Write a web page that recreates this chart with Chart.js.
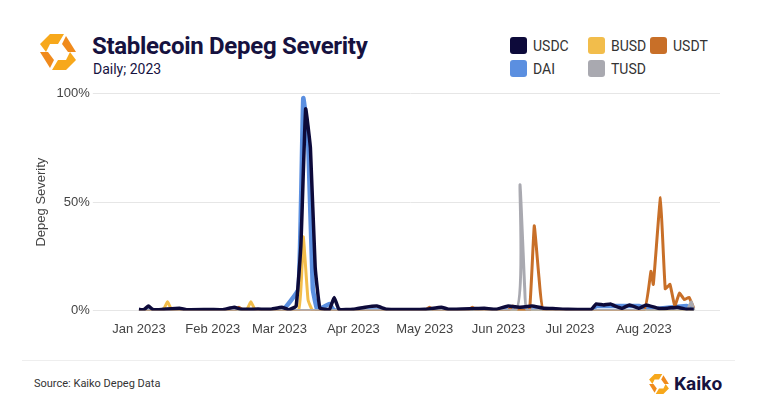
<!DOCTYPE html><html><head><meta charset="utf-8">
<script src="https://cdn.jsdelivr.net/npm/chart.js@4"></script>
<style>
body{margin:0;width:757px;height:416px;background:#fff;font-family:Roboto,"Open Sans",sans-serif;overflow:hidden;position:relative}
#wrap{position:absolute;left:30px;top:83px;width:690px;height:257px}
.t{position:absolute;left:92px;top:32px;font-size:24px;font-weight:bold;color:#16123f;letter-spacing:-0.3px}
.s{position:absolute;left:93px;top:61px;font-size:14px;color:#16123f}
.lg{position:absolute;font-size:14px;color:#333;display:flex;align-items:center}
.lg i{display:inline-block;width:17px;height:17px;border-radius:3px;margin-right:6px}
.src{position:absolute;left:34px;top:377px;font-size:11px;color:#333}
.hr{position:absolute;left:22px;right:22px;top:360px;border-top:1px solid #eee}
</style></head><body>
<svg style="position:absolute;left:38px;top:32px" width="40" height="40" viewBox="0 0 40 40">
<polygon points="12,2 26,2 20,12 12,12 8,20 2,12" fill="#f7a81b"/><polygon points="28,4 38,20 30,20 24,12" fill="#f08a1c"/>
<polygon points="28,38 14,38 20,28 28,28 32,20 38,28" fill="#f7a81b"/><polygon points="12,36 2,20 10,20 16,28" fill="#f08a1c"/></svg>
<div class="t">Stablecoin Depeg Severity</div><div class="s">Daily; 2023</div>
<div class="lg" style="left:510px;top:37px"><i style="background:#0d0a3a"></i>USDC</div>
<div class="lg" style="left:588px;top:37px"><i style="background:#f2bd4b"></i>BUSD</div>
<div class="lg" style="left:650px;top:37px"><i style="background:#c86f28"></i>USDT</div>
<div class="lg" style="left:510px;top:60px"><i style="background:#5b8fe0"></i>DAI</div>
<div class="lg" style="left:588px;top:60px"><i style="background:#a9a9b0"></i>TUSD</div>
<div id="wrap"><canvas id="c"></canvas></div>
<div class="hr"></div>
<div class="src">Source: Kaiko Depeg Data</div>
<div style="position:absolute;left:648px;top:372px;font-size:19px;font-weight:bold;color:#16123f;display:flex;align-items:center">
<svg width="22" height="22" viewBox="0 0 40 40" style="margin-right:4px"><polygon points="12,2 26,2 20,12 12,12 8,20 2,12" fill="#f7a81b"/><polygon points="28,4 38,20 30,20 24,12" fill="#f08a1c"/><polygon points="28,38 14,38 20,28 28,28 32,20 38,28" fill="#f7a81b"/><polygon points="12,36 2,20 10,20 16,28" fill="#f08a1c"/></svg>Kaiko</div>
<script>
const tickDays=[0,31,59,90,120,151,181,212];
const tickLabels=["Jan 2023","Feb 2023","Mar 2023","Apr 2023","May 2023","Jun 2023","Jul 2023","Aug 2023"];
const usdcDays=[0,2,4,6,10,17,20,30,35,40,43,50,55,60,63,66,68,70,72,74,76,80,82,84,90,95,100,104,110,120,127,130,140,145,150,155,160,165,170,175,180,190,192,195,198,200,203,206,210,213,218,222,226,230,233];
const usdcVals=[0.5,0.3,2,0.3,0.5,1,0.3,0.4,0.3,1.5,0.5,0.6,0.5,1.5,0.3,2,30,93,75,20,1,0.5,6,0.5,0.5,1.5,2,0.5,0.4,0.5,1.5,0.5,0.8,1,0.5,2,1.5,2,1,0.8,0.5,0.5,3,2.5,3,2,1,2.5,1,2.5,1,1,1.5,0.5,0.5];
const daiDays=[0,60,67,69,71,73,75,80,82,190,192,200,210,215,230,233];
const daiVals=[0,0,10,98,80,10,0,3,0,0,2,2,2,0.5,2,0];
const busdDays=[0,10,12,14,45,47,49,67,69,71,73,233];
const busdVals=[0,0,4,0,0,4,0,0,34,5,0,0];
const usdtDays=[0,40,42,44,120,122,124,138,140,142,155,157,160,164,166,168,170,212,215,216,219,221,223,225,227,229,231,233];
const usdtVals=[0,0,1.5,0,0,1.5,0,0,1.5,0,0,2,0,0,39,15,0,0,18,12,52,10,12,2,8,5,6,1];
const tusdDays=[0,158,160,162,163,230,232,233];
const tusdVals=[0,0,58,10,0,0,4,0];
const pts=(d,v)=>d.map((x,i)=>({x,y:v[i]}));
const ds=(l,d,v,c,w)=>({label:l,data:pts(d,v),borderColor:c,backgroundColor:c,borderWidth:w,pointRadius:0,tension:0.1});
new Chart(document.getElementById('c'),{type:'line',data:{datasets:[
ds('USDC',usdcDays,usdcVals,'#0d0a3a',3.5),ds('TUSD',tusdDays,tusdVals,'#a9a9b0',3),ds('USDT',usdtDays,usdtVals,'#c86f28',3),
ds('BUSD',busdDays,busdVals,'#f2bd4b',3),ds('DAI',daiDays,daiVals,'#5b8fe0',4.5)]},
options:{responsive:true,maintainAspectRatio:false,animation:false,plugins:{legend:{display:false},tooltip:{enabled:false}},
scales:{x:{type:'linear',min:-16,max:244,grid:{display:false},border:{display:false},
afterBuildTicks:a=>{a.ticks=tickDays.map(v=>({value:v}));},
ticks:{autoSkip:false,maxRotation:0,color:'#444',font:{size:13},callback:v=>tickLabels[tickDays.indexOf(v)]}},
y:{min:0,max:100,grid:{color:'#e6e6e6'},border:{display:false},afterBuildTicks:a=>{a.ticks=[0,50,100].map(v=>({value:v}));},
ticks:{color:'#444',font:{size:13},callback:v=>v+'%'},title:{display:true,text:'Depeg Severity',color:'#444',font:{size:13}}}}}});
</script></body></html>
